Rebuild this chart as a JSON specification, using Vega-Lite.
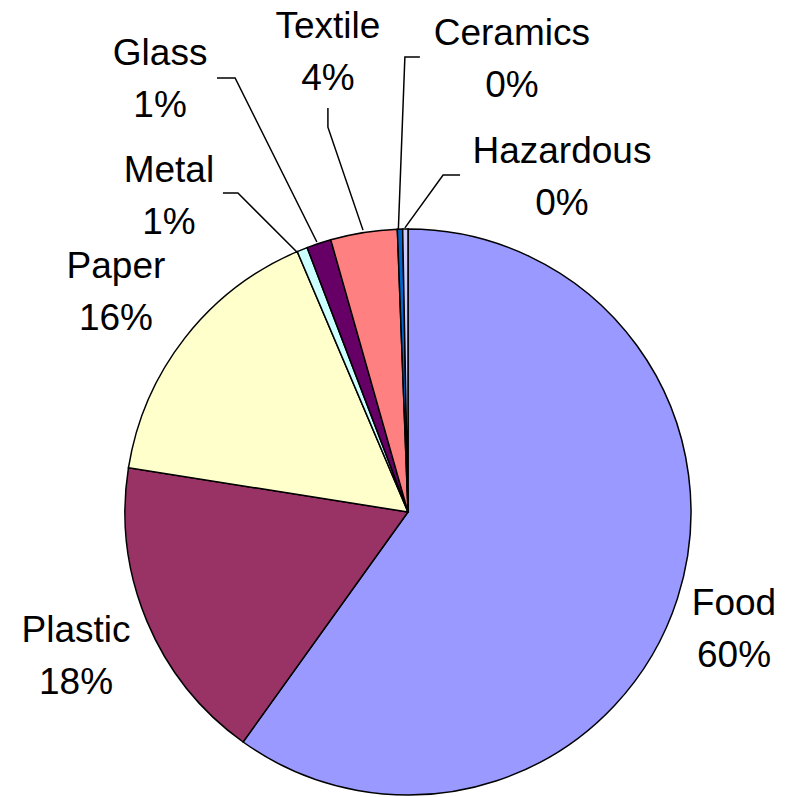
{
  "$schema": "https://vega.github.io/schema/vega-lite/v6.json",
  "description": "Waste composition pie chart",
  "width": 566,
  "height": 566,
  "autosize": "none",
  "padding": {"left": 125, "top": 229, "right": 95, "bottom": 2},
  "background": "white",
  "config": {"view": {"stroke": null}, "text": {"font": "Liberation Sans"}},
  "datasets": {
    "waste": [
      {"idx": 1, "category": "Food", "share": 0.599, "lx": 1.152, "ly": -0.364},
      {"idx": 2, "category": "Plastic", "share": 0.176, "lx": -1.173, "ly": -0.459},
      {"idx": 3, "category": "Paper", "share": 0.161, "lx": -1.032, "ly": 0.827},
      {"idx": 4, "category": "Metal", "share": 0.006, "lx": -0.845, "ly": 1.166},
      {"idx": 5, "category": "Glass", "share": 0.014, "lx": -0.876, "ly": 1.58},
      {"idx": 6, "category": "Textile", "share": 0.038, "lx": -0.283, "ly": 1.675},
      {"idx": 7, "category": "Ceramics", "share": 0.003, "lx": 0.367, "ly": 1.65},
      {"idx": 8, "category": "Hazardous", "share": 0.003, "lx": 0.544, "ly": 1.233}
    ],
    "leaders": [
      {"category": "Metal", "pt": 1, "x": -0.654, "y": 1.127},
      {"category": "Metal", "pt": 2, "x": -0.601, "y": 1.127},
      {"category": "Metal", "pt": 3, "x": -0.389, "y": 0.915},
      {"category": "Glass", "pt": 1, "x": -0.675, "y": 1.534},
      {"category": "Glass", "pt": 2, "x": -0.611, "y": 1.534},
      {"category": "Glass", "pt": 3, "x": -0.322, "y": 0.954},
      {"category": "Textile", "pt": 1, "x": -0.283, "y": 1.428},
      {"category": "Textile", "pt": 2, "x": -0.283, "y": 1.36},
      {"category": "Textile", "pt": 3, "x": -0.159, "y": 0.996},
      {"category": "Ceramics", "pt": 1, "x": 0.042, "y": 1.608},
      {"category": "Ceramics", "pt": 2, "x": -0.011, "y": 1.608},
      {"category": "Ceramics", "pt": 3, "x": -0.034, "y": 1.0},
      {"category": "Hazardous", "pt": 1, "x": 0.184, "y": 1.191},
      {"category": "Hazardous", "pt": 2, "x": 0.124, "y": 1.191},
      {"category": "Hazardous", "pt": 3, "x": -0.011, "y": 1.004}
    ]
  },
  "layer": [
    {
      "data": {"name": "waste"},
      "mark": {"type": "arc", "outerRadius": 283, "stroke": "black", "strokeWidth": 1.5},
      "encoding": {
        "theta": {"field": "share", "type": "quantitative", "stack": true},
        "order": {"field": "idx", "type": "quantitative"},
        "color": {
          "field": "category",
          "type": "nominal",
          "scale": {
            "domain": ["Food", "Plastic", "Paper", "Metal", "Glass", "Textile", "Ceramics", "Hazardous"],
            "range": ["#9999FF", "#993366", "#FFFFCC", "#CCFFFF", "#660066", "#FF8080", "#0066CC", "#CCCCFF"]
          },
          "legend": null
        }
      }
    },
    {
      "data": {"name": "leaders"},
      "mark": {"type": "line", "color": "black", "strokeWidth": 1.5},
      "encoding": {
        "x": {"field": "x", "type": "quantitative", "scale": {"domain": [-1, 1], "nice": false, "zero": false}, "axis": null},
        "y": {"field": "y", "type": "quantitative", "scale": {"domain": [-1, 1], "nice": false, "zero": false}, "axis": null},
        "detail": {"field": "category"},
        "order": {"field": "pt", "type": "quantitative"}
      }
    },
    {
      "data": {"name": "waste"},
      "mark": {"type": "text", "fontSize": 37, "baseline": "alphabetic", "color": "black"},
      "encoding": {
        "x": {"field": "lx", "type": "quantitative"},
        "y": {"field": "ly", "type": "quantitative"},
        "text": {"field": "category"}
      }
    },
    {
      "data": {"name": "waste"},
      "mark": {"type": "text", "fontSize": 37, "baseline": "alphabetic", "dy": 52, "color": "black"},
      "encoding": {
        "x": {"field": "lx", "type": "quantitative"},
        "y": {"field": "ly", "type": "quantitative"},
        "text": {"field": "share", "type": "quantitative", "format": ".0%"}
      }
    }
  ]
}
